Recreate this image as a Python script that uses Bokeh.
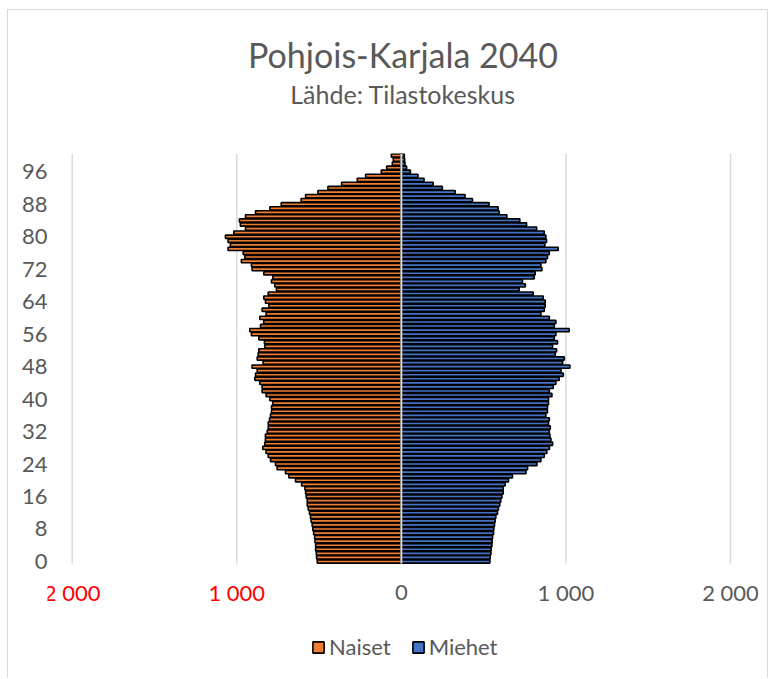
from bokeh.plotting import figure
from bokeh.models import (FixedTicker, Title, Legend, LegendItem, ColumnDataSource)
from bokeh.core.properties import value
from bokeh.embed import file_html
from bokeh.resources import INLINE

ages = list(range(0, 101))
naiset = [511, 515, 517, 521, 521, 525, 527, 533, 538, 542,
          548, 552, 558, 566, 572, 572, 578, 582, 586, 606,
          643, 684, 704, 755, 765, 795, 809, 822, 842, 830,
          826, 826, 815, 809, 809, 801, 795, 789, 789, 781,
          799, 822, 846, 846, 860, 890, 886, 876, 907, 840,
          876, 870, 866, 830, 832, 866, 911, 921, 856, 836,
          860, 822, 846, 805, 826, 836, 809, 759, 769, 789,
          781, 836, 907, 911, 972, 951, 961, 1053, 1039, 1053,
          1069, 1018, 947, 978, 984, 947, 886, 799, 730, 609,
          582, 507, 446, 363, 268, 217, 122, 89, 55, 49,
          61]
miehet = [538, 540, 544, 546, 550, 552, 554, 560, 562, 566,
          570, 574, 584, 590, 598, 604, 611, 619, 619, 631,
          651, 675, 757, 767, 824, 848, 868, 884, 900, 919,
          909, 903, 899, 905, 894, 899, 878, 888, 888, 894,
          894, 915, 899, 923, 939, 959, 984, 970, 1024, 980,
          990, 935, 943, 919, 949, 929, 939, 1020, 929, 939,
          899, 848, 868, 874, 874, 862, 801, 716, 753, 736,
          807, 813, 854, 848, 878, 888, 899, 953, 872, 882,
          878, 868, 822, 761, 720, 641, 594, 588, 533, 432,
          387, 327, 249, 193, 138, 101, 55, 32, 22, 20,
          18]

x_ticks = [-2000, -1000, 0, 1000, 2000]
x_tick_labels = ["2 000", "1 000", "0", "1 000", "2 000"]
y_ticks = list(range(0, 97, 8))

title_text = "Pohjois-Karjala 2040"
subtitle_text = "Lähde: Tilastokeskus"

FONT = "Lato"
GREY = "#595959"
GRID = "#D9D9D9"
TICK_SIZE = "22px"

# layout constants (pixels)
PX_PER_AGE = 410 / 101.0
FRAME_H = 526
AGE_TOP = 100.5
AGE_BOTTOM = AGE_TOP - FRAME_H / PX_PER_AGE
LABEL_Y = -31 / PX_PER_AGE

src = ColumnDataSource(dict(age=ages, naiset_neg=[-v for v in naiset], miehet=miehet))

p = figure(width=761, height=669, x_range=(-2150, 2170), y_range=(AGE_BOTTOM, AGE_TOP),
           output_backend="svg", toolbar_location=None, title=None,
           x_axis_location=None,
           min_border_left=39, min_border_right=11, min_border_top=143,
           min_border_bottom=0)
p.styles = {"margin-left": "7px", "margin-top": "9px",
            "border-left": "1px solid #D9D9D9", "border-top": "1px solid #D9D9D9",
            "border-right": "1px solid #D9D9D9"}
p.outline_line_color = None
p.background_fill_color = "white"
p.border_fill_color = "white"
p.grid.visible = False

# vertical gridlines at the value ticks, over the age span only
p.segment(x0=x_ticks, x1=x_ticks, y0=ages[0] - 0.5, y1=ages[-1] + 0.5,
          line_color=GRID, line_width=1.5)

rw = p.hbar(y="age", left="naiset_neg", right=0, height=0.8, source=src,
            fill_color="#ED7D31", line_color="black", line_width=1.6)
rm = p.hbar(y="age", left=0, right="miehet", height=0.8, source=src,
            fill_color="#4472C4", line_color="black", line_width=1.6)

# category axis line at zero
p.segment(x0=[0], x1=[0], y0=ages[0] - 0.5, y1=ages[-1] + 0.5,
          line_color=GRID, line_width=2)

# value-axis labels (left side in red)
label_colors = ["#FF0000" if t < 0 else GREY for t in x_ticks]
p.text(x=x_ticks, y=[LABEL_Y] * len(x_ticks), text=x_tick_labels,
       text_color=label_colors, text_align="center", text_baseline="middle",
       text_font=value(FONT), text_font_size=TICK_SIZE)

ya = p.yaxis[0]
ya.ticker = FixedTicker(ticks=y_ticks)
ya.axis_line_color = None
ya.major_tick_line_color = None
ya.minor_tick_line_color = None
ya.major_tick_out = 0
ya.major_tick_in = 0
ya.major_label_standoff = 0
ya.major_label_text_font = FONT
ya.major_label_text_font_size = TICK_SIZE
ya.major_label_text_color = GREY

legend = Legend(items=[LegendItem(label="Naiset", renderers=[rw]),
                       LegendItem(label="Miehet", renderers=[rm])],
                orientation="horizontal", location=(264, 19),
                border_line_color=None, background_fill_alpha=0,
                glyph_width=14, glyph_height=14, label_standoff=4, spacing=20,
                padding=4, label_text_font=FONT, label_text_font_size=TICK_SIZE,
                label_text_color=GREY)
p.add_layout(legend)

# titles above: spacer, subtitle, title
p.add_layout(Title(text=" ", text_font_size="10px", standoff=30), "above")
p.add_layout(Title(text=subtitle_text, align="center", text_font=FONT,
                   text_font_size="25px", text_font_style="normal",
                   text_color=GREY, standoff=4), "above")
p.add_layout(Title(text=title_text, align="center", text_font=FONT,
                   text_font_size="34px", text_font_style="normal",
                   text_color=GREY, standoff=0), "above")

open("out.html", "w").write(file_html(p, INLINE))
